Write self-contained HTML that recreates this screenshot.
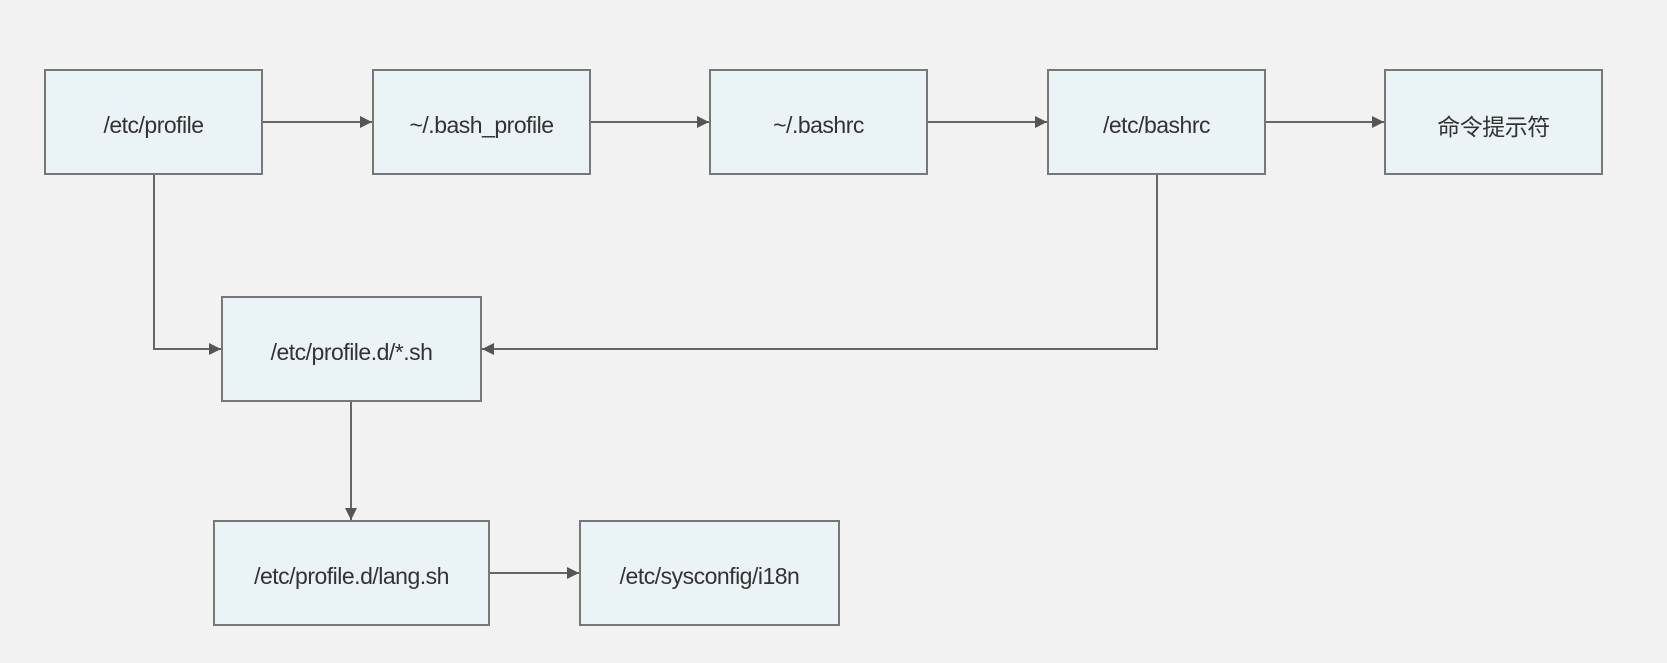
<!DOCTYPE html>
<html><head><meta charset="utf-8"><style>
html,body{margin:0;padding:0;background:#f2f2f2;}
body{width:1667px;height:663px;position:relative;overflow:hidden;}
.b{position:absolute;box-sizing:border-box;border:2px solid #777;background:#eaf3f6;display:flex;align-items:center;justify-content:center;font-family:"Liberation Sans","Noto Sans CJK SC",sans-serif;font-size:23px;color:#333;letter-spacing:-0.5px;padding-top:6px;}
svg{position:absolute;left:0;top:0;}
</style></head><body>
<svg width="1667" height="663">
<defs><marker id="a" markerWidth="13" markerHeight="13" refX="12" refY="6" orient="auto" markerUnits="userSpaceOnUse"><path d="M0,0 L12,6 L0,12 z" fill="#555"/></marker></defs>
<g stroke="#666" stroke-width="2" fill="none" marker-end="url(#a)">
<path d="M263,122 H372"/>
<path d="M591,122 H709"/>
<path d="M928,122 H1047"/>
<path d="M1266,122 H1384"/>
<path d="M154,175 V349 H221"/>
<path d="M1157,175 V349 H482"/>
<path d="M351,402 V520"/>
<path d="M490,573 H579"/>
</g></svg>
<div class="b" style="left:44px;top:69px;width:219px;height:106px">/etc/profile</div>
<div class="b" style="left:372px;top:69px;width:219px;height:106px">~/.bash_profile</div>
<div class="b" style="left:709px;top:69px;width:219px;height:106px">~/.bashrc</div>
<div class="b" style="left:1047px;top:69px;width:219px;height:106px">/etc/bashrc</div>
<div class="b" style="left:1384px;top:69px;width:219px;height:106px">命令提示符</div>
<div class="b" style="left:221px;top:296px;width:261px;height:106px">/etc/profile.d/*.sh</div>
<div class="b" style="left:213px;top:520px;width:277px;height:106px">/etc/profile.d/lang.sh</div>
<div class="b" style="left:579px;top:520px;width:261px;height:106px">/etc/sysconfig/i18n</div>
</body></html>
